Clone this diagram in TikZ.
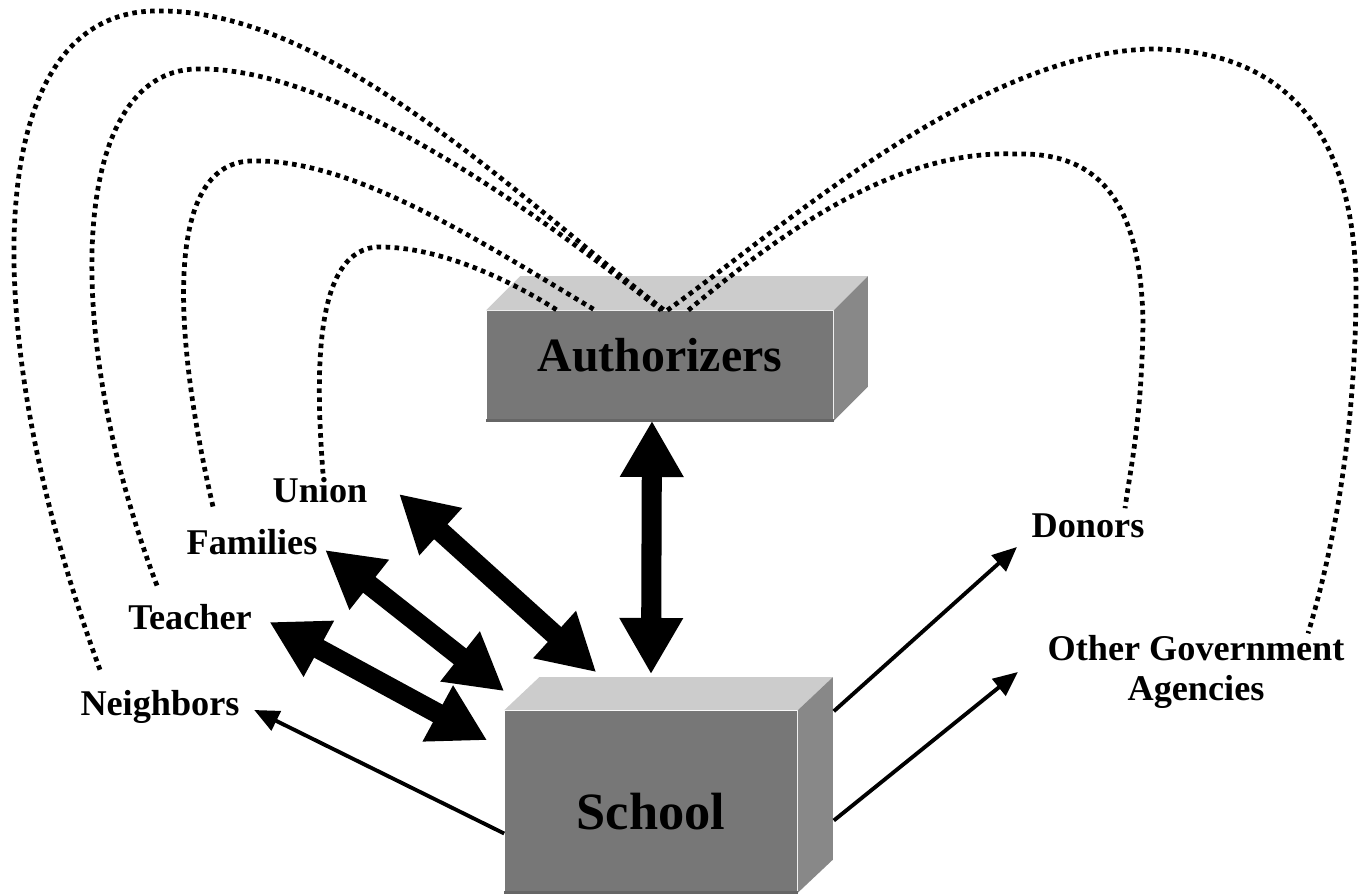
\documentclass[tikz,border=0pt]{standalone}
\usepackage{fontspec}
\setmainfont{Liberation Serif}
\usepackage{tikz}
\usetikzlibrary{arrows.meta, positioning, calc}
\definecolor{frontgray}{RGB}{119,119,119}
\definecolor{topgray}{RGB}{204,204,204}
\definecolor{sidegray}{RGB}{136,136,136}

\begin{document}
\begin{tikzpicture}[
  x=0.01cm, y=-0.01cm,
  front/.style={rectangle, fill=frontgray, inner sep=0pt},
  lbl/.style={font=\bfseries\fontsize{10.3}{11.6}\selectfont, inner sep=0pt, align=center},
  link/.style={line width=1.35pt, dash pattern=on 1.3pt off 1.25pt},
  bigarrow/.style={{Triangle[length=16pt, width=17pt]}-{Triangle[length=16pt, width=17pt]}, line width=5.7pt},
  arrow/.style={-{Triangle[length=7pt, width=6pt]}, line width=1.1pt},
]
\useasboundingbox (0,0) rectangle (1367,895);

% Authorizers box
\node[front, minimum width=3.46cm, minimum height=1.09cm] (auth) at (660,365.5) {};
\fill[topgray] (auth.north west) -- ++(0.34cm,0.34cm) -- ([shift={(0.34cm,0.34cm)}]auth.north east) -- (auth.north east) -- cycle;
\fill[sidegray] (auth.north east) -- ++(0.34cm,0.34cm) -- ([shift={(0.34cm,0.34cm)}]auth.south east) -- (auth.south east) -- cycle;
\draw[black!60, line width=0.8pt] (auth.south west) -- (auth.south east);
\node[font=\bfseries\fontsize{13.6}{16}\selectfont] (authtext) at ([yshift=0.1cm]auth.center) {Authorizers};

% School box
\node[front, minimum width=2.92cm, minimum height=1.81cm] (school) at (651,801.5) {};
\fill[topgray] (school.north west) -- ++(0.35cm,0.33cm) -- ([shift={(0.35cm,0.33cm)}]school.north east) -- (school.north east) -- cycle;
\fill[sidegray] (school.north east) -- ++(0.35cm,0.33cm) -- ([shift={(0.35cm,0.33cm)}]school.south east) -- (school.south east) -- cycle;
\draw[black!60, line width=0.8pt] (school.south west) -- (school.south east);
\node[font=\bfseries\fontsize{14.9}{18}\selectfont] (schooltext) at ([yshift=-0.1cm]school.center) {School};

% Labels
\node[lbl] (union) at (320,490) {Union};
\node[lbl] (families) at (252,542) {Families};
\node[lbl] (teacher) at (190,617) {Teacher};
\node[lbl] (neighbors) at (160,707) {Neighbors};
\node[lbl] (donors) at (1088,526) {Donors};
\node[lbl] (other) at (1196,672) {Other Government\\Agencies};

% Dotted links to the authorizers
\draw[link] ([xshift=0.03cm,yshift=0.03cm]union.north) .. controls (316,380) and (312,247) .. (380,247)
  .. controls (440,247) and (510,280) .. ([xshift=0.71cm]auth.north west);
\draw[link] ([xshift=-0.39cm,yshift=0.22cm]families.north) .. controls (172,330) and (165,165) .. (250,161)
  .. controls (350,158) and (470,235) .. ([xshift=1.09cm]auth.north west);
\draw[link] ([xshift=-0.33cm,yshift=0.18cm]teacher.north) .. controls (60,330) and (70,72) .. (196,69)
  .. controls (330,66) and (520,200) .. ([xshift=1.75cm]auth.north west);
\draw[link] ([xshift=-0.6cm,yshift=0.2cm]neighbors.north) .. controls (-25,330) and (-20,12) .. (156,11)
  .. controls (330,8) and (520,200) .. ([xshift=1.78cm]auth.north west);
\draw[link] ([xshift=1.81cm]auth.north west) .. controls (780,230) and (980,50) .. (1155,49)
  .. controls (1300,52) and (1358,150) .. (1356,300)
  .. controls (1354,450) and (1330,560) .. ([xshift=1.12cm,yshift=0.01cm]other.north);
\draw[link] ([xshift=2.02cm]auth.north west) .. controls (790,225) and (900,150) .. (1015,154)
  .. controls (1090,152) and (1140,190) .. (1143,320)
  .. controls (1142,420) and (1130,470) .. ([xshift=0.37cm,yshift=0.05cm]donors.north);

% Two-way arrows
\draw[bigarrow] ([xshift=-0.08cm]auth.south) -- ([xshift=0cm,yshift=0.36cm]school.north);
\draw[bigarrow] ([xshift=0.31cm,yshift=-0.04cm]union.east) -- ([xshift=0.92cm,yshift=0.38cm]school.north west);
\draw[bigarrow] ([xshift=0.07cm,yshift=-0.08cm]families.east) -- ([yshift=0.19cm]school.north west);
\draw[bigarrow] ([xshift=0.17cm,yshift=-0.05cm]teacher.east) -- ([xshift=-0.17cm,yshift=-0.30cm]school.north west);

% One-way arrows
\draw[arrow] ([yshift=-0.32cm]school.west) -- ([xshift=0.14cm,yshift=-0.03cm]neighbors.east);
\draw[arrow] ([xshift=0.36cm,yshift=-0.01cm]school.north east) -- ([xshift=-0.14cm,yshift=-0.21cm]donors.west);
\draw[arrow] ([xshift=0.36cm,yshift=-0.19cm]school.east) -- ([xshift=-0.29cm]other.west);

\end{tikzpicture}
\end{document}
